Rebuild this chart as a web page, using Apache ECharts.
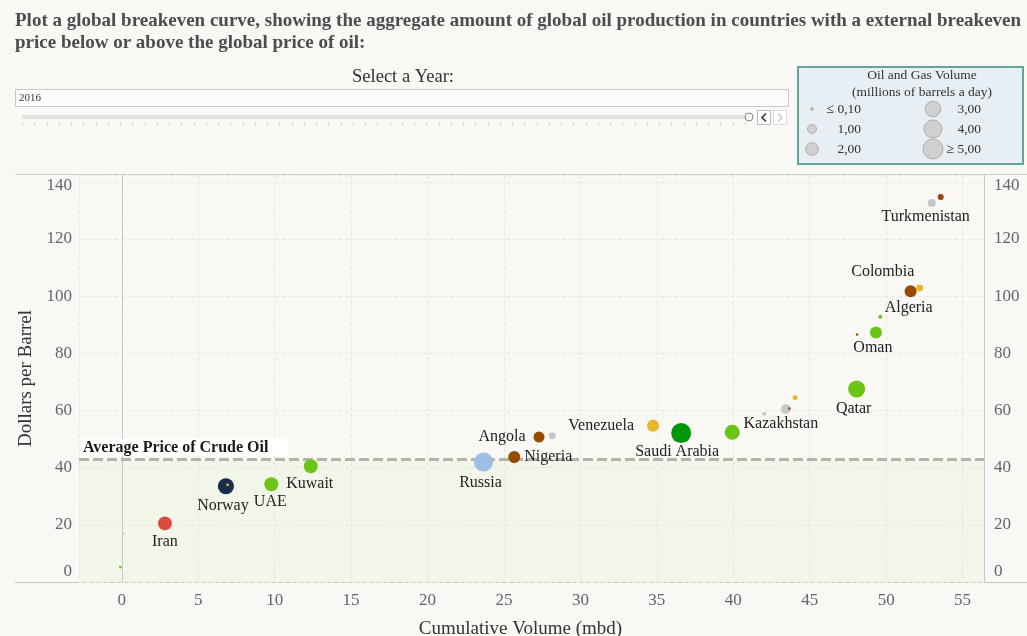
<!DOCTYPE html>
<html>
<head>
<meta charset="utf-8">
<title>Global breakeven curve</title>
<script src="https://cdn.jsdelivr.net/npm/echarts@6.0.0/dist/echarts.min.js"></script>
<style>
  html, body { margin: 0; padding: 0; background: #f9f8f4; }
  #main { width: 1027px; height: 636px; }
</style>
</head>
<body>
<div id="main"></div>
<script>
// chart data
const countries = ['', '', 'Iran', 'Norway', '', 'UAE', 'Kuwait', 'Russia', 'Nigeria', 'Angola', '',
  'Venezuela', 'Saudi Arabia', '', '', 'Kazakhstan', '', '', 'Qatar', '', 'Oman', '', 'Algeria',
  'Colombia', 'Turkmenistan', ''];
const cumVolume = [-0.09, 0.09, 2.82, 6.81, 6.92, 9.78, 12.36, 23.66, 25.67, 27.29, 28.16,
  34.75, 36.59, 39.93, 42.03, 43.44, 43.66, 44.05, 48.07, 48.10, 49.33, 49.62, 51.60,
  52.20, 52.98, 53.57];
const breakeven = [5.2, 17.0, 20.5, 33.5, 34.0, 34.2, 40.5, 42.0, 43.7, 50.7, 51.2,
  54.7, 52.1, 52.4, 58.9, 60.5, 60.7, 64.5, 67.5, 86.6, 87.3, 92.8, 101.7,
  102.9, 132.6, 134.7];
const volume = [0.08, 0.05, 2.4, 3.2, 0.1, 2.4, 2.4, 4.5, 1.8, 1.5, 0.6,
  1.8, 5.5, 2.8, 0.2, 1.2, 0.08, 0.3, 3.6, 0.05, 1.8, 0.2, 1.8,
  0.6, 0.8, 0.45];
const region = ['Middle East', 'Central Asia', 'Iran', 'Europe', 'Latin America', 'Middle East',
  'Middle East', 'Russia', 'Africa', 'Africa', 'Central Asia', 'Latin America', 'Saudi Arabia',
  'Middle East', 'Central Asia', 'Central Asia', 'Africa', 'Latin America', 'Middle East',
  'Africa', 'Middle East', 'Middle East', 'Africa', 'Latin America', 'Central Asia', 'Africa'];
const avgPrice = 42.8;
const xTicks = [0, 5, 10, 15, 20, 25, 30, 35, 40, 45, 50, 55];
const yTicks = [0, 20, 40, 60, 80, 100, 120, 140];
const legendVolumes = [0.1, 1, 2, 3, 4, 5];
const legendLabels = ['≤ 0,10', '1,00', '2,00', '3,00', '4,00', '≥ 5,00'];
const selectedYear = '2016';

const SERIF = '"Liberation Serif", "DejaVu Serif", serif';
const regionColors = {
  'Middle East': '#6cc417',
  'Saudi Arabia': '#00960a',
  'Africa': '#964b00',
  'Latin America': '#e8b82a',
  'Central Asia': '#c8c8c8',
  'Russia': '#9fc0e6',
  'Iran': '#dd4b3f',
  'Europe': '#172d4c'
};
// where each country name sits relative to its mark
const labelPlace = {
  'Iran': ['bottom', [0, -2]],
  'Norway': ['bottom', [-3, -2]],
  'UAE': ['bottom', [-1, -2]],
  'Kuwait': ['bottom', [-1, -2]],
  'Russia': ['bottom', [-3, -2]],
  'Nigeria': ['right', [-1, 0]],
  'Angola': ['left', [-3, 0]],
  'Venezuela': ['left', [-8, 0]],
  'Saudi Arabia': ['bottom', [-4, -4]],
  'Kazakhstan': ['bottom', [-5, -3]],
  'Qatar': ['bottom', [-3, -2]],
  'Oman': ['bottom', [-3, -4]],
  'Algeria': ['bottom', [-2, -3]],
  'Colombia': ['top', [-37, 0]],
  'Turkmenistan': ['bottom', [-6, -3]]
};

function sizeOf(v) {
  return Math.min(20, Math.max(2.5, 9 * Math.sqrt(v)));
}

const points = countries.map(function (c, i) {
  const item = {
    name: c,
    value: [cumVolume[i], breakeven[i], volume[i]],
    itemStyle: { color: regionColors[region[i]], opacity: 1 }
  };
  if (c && labelPlace[c]) {
    item.label = { show: true, position: labelPlace[c][0], offset: labelPlace[c][1] };
  } else {
    item.label = { show: false };
  }
  return item;
});

const tickStyle = { fontFamily: SERIF, fontSize: 17, color: '#5f6670' };

// header graphics: year selector and size legend
const graphics = [];
graphics.push({ type: 'text', style: { text: 'Select a Year:', x: 403, y: 77, align: 'center', verticalAlign: 'middle', font: '18.5px ' + SERIF, fill: '#333' } });
graphics.push({ type: 'rect', shape: { x: 15.5, y: 89.5, width: 773, height: 17 }, style: { fill: '#fcfcfa', stroke: '#c8c8c8', lineWidth: 1 } });
graphics.push({ type: 'text', style: { text: selectedYear, x: 19, y: 98, verticalAlign: 'middle', font: '11px ' + SERIF, fill: '#333' } });
graphics.push({ type: 'rect', shape: { x: 22, y: 115, width: 723, height: 4 }, style: { fill: '#e4e4e2' } });
for (let tx = 22; tx <= 745; tx += 12.25) {
  graphics.push({ type: 'line', shape: { x1: Math.round(tx) + 0.5, y1: 122, x2: Math.round(tx) + 0.5, y2: 126 }, style: { stroke: '#d8d8d8', lineWidth: 1 } });
}
graphics.push({ type: 'circle', shape: { cx: 749, cy: 117, r: 4 }, style: { fill: '#f9f8f4', stroke: '#888', lineWidth: 1 } });
graphics.push({ type: 'rect', shape: { x: 757.5, y: 110.5, width: 13, height: 14 }, style: { fill: '#fff', stroke: '#bbb', lineWidth: 1 } });
graphics.push({ type: 'polyline', shape: { points: [[766, 113.5], [762, 117.5], [766, 121.5]] }, style: { stroke: '#333', lineWidth: 1.6, fill: null } });
graphics.push({ type: 'rect', shape: { x: 773.5, y: 110.5, width: 13, height: 14 }, style: { fill: '#fff', stroke: '#ddd', lineWidth: 1 } });
graphics.push({ type: 'polyline', shape: { points: [[778, 113.5], [782, 117.5], [778, 121.5]] }, style: { stroke: '#c4c4c4', lineWidth: 1.2, fill: null } });

graphics.push({ type: 'rect', shape: { x: 798, y: 67, width: 225, height: 97 }, style: { fill: '#e7eef4', stroke: '#62a59b', lineWidth: 2 } });
graphics.push({ type: 'text', style: { text: 'Oil and Gas Volume', x: 922, y: 75.5, align: 'center', verticalAlign: 'middle', font: '13.5px ' + SERIF, fill: '#333' } });
graphics.push({ type: 'text', style: { text: '(millions of barrels a day)', x: 922, y: 92.5, align: 'center', verticalAlign: 'middle', font: '13.5px ' + SERIF, fill: '#333' } });
legendVolumes.forEach(function (v, i) {
  const col = i < 3 ? 0 : 1;
  const row = i % 3;
  const cx = [812, 933][col];
  const cy = [109, 129, 149][row];
  graphics.push({ type: 'circle', shape: { cx: cx, cy: cy, r: sizeOf(v) / 2 }, style: { fill: '#d0d0d0', stroke: '#adadad', lineWidth: 1 } });
  graphics.push({ type: 'text', style: { text: legendLabels[i], x: [861, 981][col], y: cy, align: 'right', verticalAlign: 'middle', font: '13.5px ' + SERIF, fill: '#333' } });
});
// pane border lines across the full width
graphics.push({ type: 'line', shape: { x1: 15, y1: 174.5, x2: 1027, y2: 174.5 }, style: { stroke: '#cfcfcf', lineWidth: 1 } });
graphics.push({ type: 'line', shape: { x1: 15, y1: 582.5, x2: 1027, y2: 582.5 }, style: { stroke: '#c8c8c8', lineWidth: 1 } });

function yLabel(v) {
  if (yTicks.indexOf(v) < 0) return '';
  if (v === 0) return '{lo|0}';
  if (v === 140) return '{hi|140}';
  return String(v);
}
const yRich = {
  lo: { fontFamily: SERIF, fontSize: 17, color: '#5f6670', padding: [0, 0, 21, 0] },
  hi: { fontFamily: SERIF, fontSize: 17, color: '#5f6670', padding: [7, 0, 0, 0] }
};

const myChart = echarts.init(document.getElementById('main'));
myChart.setOption({
  backgroundColor: '#f9f8f4',
  animation: false,
  title: {
    text: 'Plot a global breakeven curve, showing the aggregate amount of global oil production in countries with a external breakeven\nprice below or above the global price of oil:',
    left: 15,
    top: 10,
    padding: 0,
    textStyle: { fontFamily: SERIF, fontSize: 19, fontWeight: 'bold', color: '#4d4d4d', lineHeight: 22 }
  },
  graphic: graphics,
  grid: { left: 79, right: 43, top: 175, bottom: 54, containLabel: false, outerBoundsMode: 'none' },
  xAxis: {
    type: 'value',
    min: -2.8,
    max: 56.4,
    splitNumber: 12,
    minInterval: 5,
    maxInterval: 5,
    name: 'Cumulative Volume (mbd)',
    nameLocation: 'middle',
    nameGap: 38,
    nameTextStyle: { fontFamily: SERIF, fontSize: 19, color: '#333', padding: [0, 22, 0, 0] },
    axisLine: { show: false },
    axisTick: { show: false },
    axisLabel: Object.assign({ margin: 10, formatter: function (v) { return xTicks.indexOf(v) < 0 ? '' : String(v); } }, tickStyle),
    splitLine: { show: true, lineStyle: { color: '#e6e6e3', type: [4, 3], width: 1 } }
  },
  yAxis: [
    {
      type: 'value',
      min: 0,
      max: 142.4,
      splitNumber: 7,
      minInterval: 20,
      maxInterval: 20,
      name: 'Dollars per Barrel',
      nameLocation: 'middle',
      nameGap: 43,
      nameTextStyle: { fontFamily: SERIF, fontSize: 19, color: '#333' },
      axisLine: { show: true, lineStyle: { color: '#c8c8c8', width: 1 } },
      axisTick: { show: false },
      axisLabel: Object.assign({ margin: 7, formatter: yLabel, rich: yRich }, tickStyle),
      splitLine: { show: true, lineStyle: { color: '#e6e6e3', type: [4, 3], width: 1 } }
    },
    {
      type: 'value',
      position: 'right',
      min: 0,
      max: 142.4,
      splitNumber: 7,
      minInterval: 20,
      maxInterval: 20,
      axisLine: { show: true, lineStyle: { color: '#c8c8c8', width: 1 } },
      axisTick: { show: false },
      axisLabel: Object.assign({ margin: 10, formatter: yLabel, rich: yRich }, tickStyle),
      splitLine: { show: false }
    }
  ],
  series: [
    {
      type: 'scatter',
      yAxisIndex: 0,
      data: points,
      symbolSize: function (val) { return sizeOf(val[2]); },
      itemStyle: { opacity: 1 },
      label: { formatter: '{b}', fontFamily: SERIF, fontSize: 16, color: '#222' },
      markArea: {
        silent: true,
        itemStyle: { color: 'rgba(205,235,180,0.16)' },
        data: [[{ yAxis: 0 }, { yAxis: avgPrice }]]
      },
      markLine: {
        silent: true,
        symbol: 'none',
        z: 1,
        data: [
          {
            xAxis: 0,
            lineStyle: { color: '#c4c4c4', type: [1, 2], width: 1 },
            label: { show: false }
          },
          {
            yAxis: avgPrice,
            lineStyle: { color: '#b3b3ad', type: [10, 4], width: 3 },
            label: {
              show: true,
              position: 'insideStartTop',
              distance: [2, 4],
              formatter: 'Average Price of Crude Oil',
              fontFamily: SERIF,
              fontSize: 16,
              fontWeight: 'bold',
              color: '#1a1a1a',
              backgroundColor: '#ffffff',
              padding: [1, 20, 0, 2]
            }
          }
        ]
      }
    }
  ]
});
</script>
</body>
</html>
